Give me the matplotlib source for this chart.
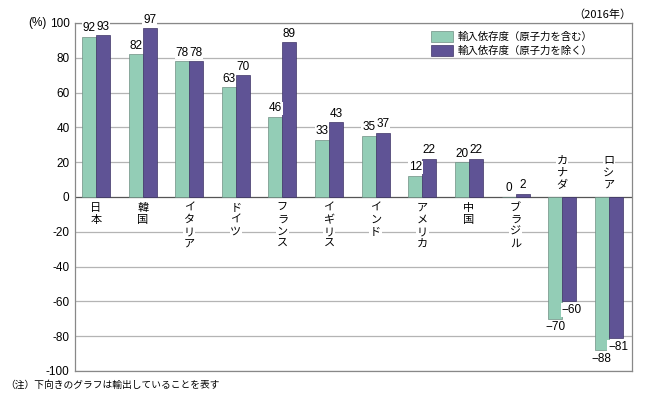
import matplotlib
matplotlib.use("Agg")
import matplotlib.pyplot as plt
from matplotlib.patches import Patch

plt.rcParams["font.family"] = ["Noto Sans CJK JP", "DejaVu Sans"]

countries = ["日本", "韓国", "イタリア", "ドイツ", "フランス", "イギリス", "インド",
             "アメリカ", "中国", "ブラジル", "カナダ", "ロシア"]
with_nuclear = [92, 82, 78, 63, 46, 33, 35, 12, 20, 0, -70, -88]
without_nuclear = [93, 97, 78, 70, 89, 43, 37, 22, 22, 2, -60, -81]
series_labels = ["輸入依存度（原子力を含む）", "輸入依存度（原子力を除く）"]
yticks = [100, 80, 60, 40, 20, 0, -20, -40, -60, -80, -100]

GREEN = "#93cdb6"
PURPLE = "#5f5395"
GRID = "#b4b4b4"
NUM = "Liberation Sans"

fig = plt.figure(figsize=(6.5, 3.95), dpi=100)
ax = fig.add_axes([0.1154, 0.0608, 0.857, 0.881])

n = len(countries)
w = 0.3
xs = list(range(n))
ax.bar([x - w / 2 for x in xs], with_nuclear, w, color=GREEN, edgecolor="#6f8f83", linewidth=0.5, zorder=3)
ax.bar([x + w / 2 for x in xs], without_nuclear, w, color=PURPLE, edgecolor="#3e3566", linewidth=0.5, zorder=3)

for y in yticks:
    ax.axhline(y, color="#555555" if y == 0 else GRID, lw=0.9, zorder=1)

ax.set_xlim(-0.45, n - 0.5)
ax.set_ylim(-100, 100)
ax.set_yticks(yticks)
ax.set_yticklabels([str(t) for t in yticks], fontsize=8.5, family=NUM)
ax.tick_params(axis="y", length=0, pad=4)
ax.set_xticks([])
for s in ax.spines.values():
    s.set_color("#888888")
    s.set_linewidth(0.9)

box = dict(facecolor="white", edgecolor="none", pad=0.5)

def fmt(v):
    return str(v) if v >= 0 else "−" + str(-v)

for i in range(n):
    for v, dx, off in [(with_nuclear[i], -w / 2, 0), (without_nuclear[i], w / 2, 0.05)]:
        if v >= 0:
            ax.text(i + dx, v + 1.5, fmt(v), ha="center", va="bottom", fontsize=8.5,
                    family=NUM, bbox=box, zorder=4)
        else:
            ax.text(i + dx + off, v - 1.5, fmt(v), ha="center", va="top", fontsize=8.5,
                    family=NUM, bbox=box, zorder=4)
    label = "\n".join(countries[i])
    if with_nuclear[i] >= 0:
        ax.text(i, -3.5, label, ha="center", va="top", fontsize=8, linespacing=1.25,
                bbox=box, zorder=4)
    else:
        ax.text(i, 4, label, ha="center", va="bottom", fontsize=8, linespacing=1.25,
                bbox=box, zorder=4)

handles = [Patch(facecolor=GREEN, edgecolor="#6f8f83", linewidth=0.5),
           Patch(facecolor=PURPLE, edgecolor="#3e3566", linewidth=0.5)]
leg = ax.legend(handles, series_labels, loc="upper right", bbox_to_anchor=(0.945, 1.005),
                frameon=False, handlelength=2.1, handleheight=1.3,
                handletextpad=0.4, labelspacing=0.3, prop={"size": 7.5})

fig.text(0.058, 0.942, "(%)", ha="center", va="center", fontsize=8.5, family=NUM)
fig.text(0.972, 0.962, "（2016年）", ha="right", va="center", fontsize=8)
fig.text(0.008, 0.025, "（注）下向きのグラフは輸出していることを表す", ha="left", va="center", fontsize=7)

fig.savefig("out.png", dpi=100)
